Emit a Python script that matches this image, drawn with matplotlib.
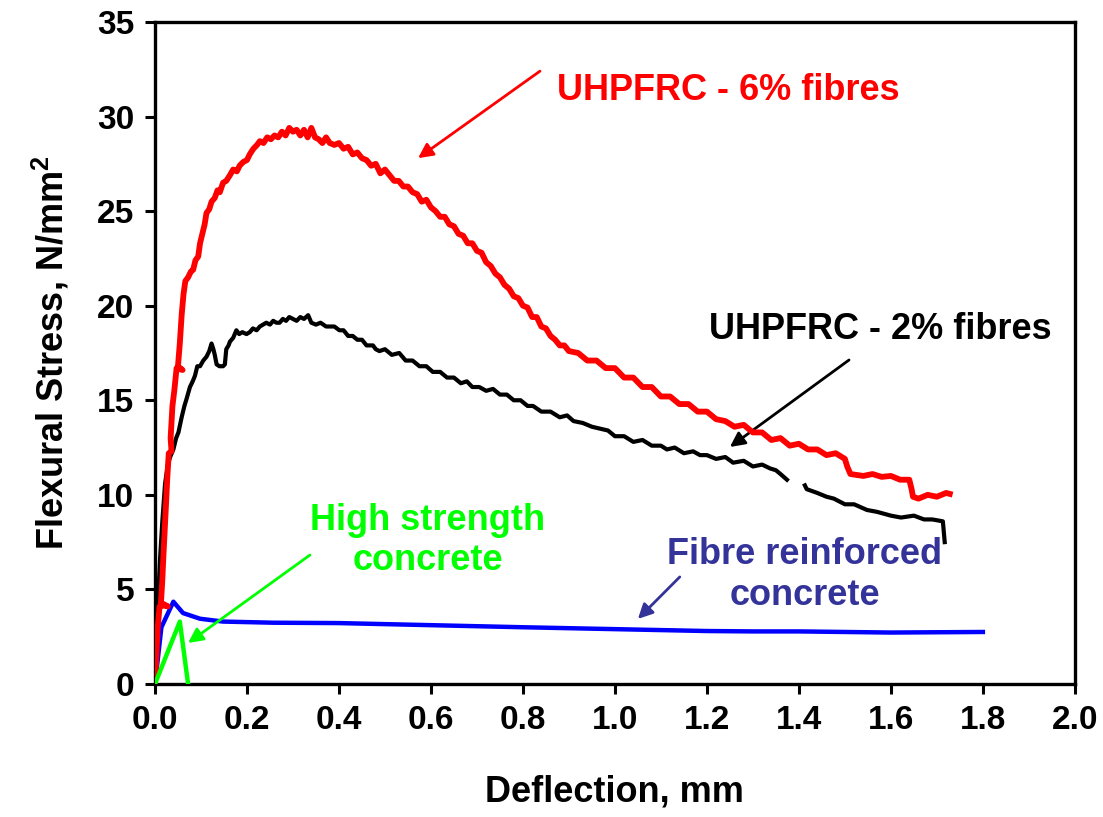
import numpy as np
import matplotlib
matplotlib.use("Agg")
import matplotlib.pyplot as plt

plt.rcParams['font.family'] = ['Liberation Sans', 'DejaVu Sans']
plt.rcParams['font.weight'] = 'bold'
plt.rcParams['mathtext.fontset'] = 'custom'
plt.rcParams['mathtext.bf'] = 'Liberation Sans:bold'
plt.rcParams['mathtext.rm'] = 'Liberation Sans:bold'

# UHPFRC 6% fibres (red)
x_6 = [0, 0.003, 0.006, 0.010, 0.020, 0.028, 0.013, 0.016, 0.018, 0.021, 0.024,
       0.027, 0.030, 0.036, 0.034, 0.038, 0.042, 0.047, 0.060, 0.050, 0.054,
       0.058, 0.062, 0.066, 0.072, 0.078, 0.083, 0.088, 0.094, 0.098, 0.102,
       0.108, 0.112, 0.118, 0.123, 0.130, 0.136, 0.141, 0.148, 0.155, 0.163,
       0.170, 0.178, 0.184, 0.192, 0.200, 0.206, 0.214, 0.222, 0.228, 0.236,
       0.244, 0.252, 0.260, 0.268, 0.276, 0.284, 0.292, 0.300, 0.308, 0.316,
       0.324, 0.332, 0.340, 0.348, 0.356, 0.364, 0.372, 0.380, 0.390, 0.400,
       0.410, 0.420, 0.430, 0.440, 0.450, 0.460, 0.470, 0.480, 0.490, 0.500,
       0.510, 0.520, 0.530, 0.540, 0.550, 0.560, 0.570, 0.580, 0.590, 0.600,
       0.610, 0.620, 0.630, 0.640, 0.650, 0.660, 0.670, 0.680, 0.690, 0.700,
       0.710, 0.720, 0.730, 0.740, 0.750, 0.760, 0.770, 0.780, 0.790, 0.800,
       0.810, 0.820, 0.830, 0.840, 0.850, 0.860, 0.870, 0.880, 0.890, 0.900,
       0.920, 0.940, 0.960, 0.980, 1.000, 1.020, 1.040, 1.060, 1.080, 1.100,
       1.120, 1.140, 1.160, 1.180, 1.200, 1.220, 1.240, 1.260, 1.280, 1.300,
       1.320, 1.340, 1.360, 1.380, 1.400, 1.420, 1.440, 1.460, 1.480, 1.500,
       1.505, 1.512, 1.540, 1.560, 1.580, 1.600, 1.620, 1.640, 1.645, 1.648,
       1.660, 1.680, 1.700, 1.720, 1.728]
y_6 = [0, 1.5, 3.0, 4.1, 4.15, 4.1, 4.3, 5.5, 6.6, 8.0, 9.5,
       11.0, 12.2, 12.3, 13.0, 14.7, 15.5, 16.7, 16.6, 16.8, 18.0,
       19.5, 20.6, 21.3, 21.5, 21.8, 21.9, 22.4, 22.6, 23.3, 23.7,
       24.3, 24.9, 25.1, 25.5, 25.7, 26.1, 26.0, 26.5, 26.6, 26.9,
       27.2, 27.1, 27.4, 27.6, 27.7, 28.0, 28.3, 28.5, 28.7, 28.6,
       28.9, 28.8, 29.0, 28.9, 29.2, 29.0, 29.4, 29.2, 29.3, 29.0,
       29.3, 28.9, 29.4, 28.9, 28.8, 28.6, 28.9, 28.6, 28.5, 28.6,
       28.3, 28.4, 28.0, 28.1, 27.8, 27.7, 27.4, 27.5, 27.0, 27.2,
       26.9, 26.6, 26.6, 26.3, 26.3, 26.0, 25.9, 25.5, 25.6, 25.2,
       25.0, 24.7, 24.7, 24.3, 24.2, 23.8, 23.7, 23.3, 23.3, 22.9,
       22.8, 22.3, 22.1, 21.7, 21.5, 21.1, 20.9, 20.5, 20.4, 20.0,
       19.9, 19.4, 19.4, 18.9, 18.8, 18.4, 18.2, 17.9, 17.9, 17.6,
       17.5, 17.1, 17.1, 16.7, 16.7, 16.2, 16.2, 15.7, 15.7, 15.2,
       15.2, 14.8, 14.8, 14.4, 14.4, 14.0, 13.9, 13.6, 13.7, 13.3,
       13.3, 12.9, 13.0, 12.6, 12.7, 12.4, 12.4, 12.1, 12.2, 11.9,
       11.5, 11.1, 11.0, 11.1, 10.95, 11.0, 10.8, 10.8, 10.3, 9.9,
       9.8, 10.0, 9.9, 10.1, 10.05]

# UHPFRC 2% fibres (black), gap near 1.39 mm
x_2 = [0, 0.004, 0.008, 0.011, 0.016, 0.022, 0.028, 0.033, 0.040, 0.046,
       0.051, 0.058, 0.064, 0.069, 0.076, 0.082, 0.087, 0.092, 0.098, 0.105,
       0.112, 0.118, 0.123, 0.127, 0.130, 0.134, 0.140, 0.148, 0.152, 0.155,
       0.160, 0.163, 0.170, 0.177, 0.183, 0.190, 0.199, 0.206, 0.213, 0.221,
       0.228, 0.235, 0.242, 0.250, 0.257, 0.264, 0.271, 0.278, 0.285, 0.292,
       0.300, 0.308, 0.316, 0.324, 0.333, 0.340, 0.350, 0.360, 0.372, 0.380,
       0.390, 0.401, 0.410, 0.420, 0.430, 0.440, 0.450, 0.460, 0.474, 0.480,
       0.488, 0.500, 0.515, 0.531, 0.545, 0.560, 0.575, 0.590, 0.604, 0.620,
       0.635, 0.650, 0.665, 0.678, 0.690, 0.705, 0.720, 0.735, 0.750, 0.765,
       0.780, 0.795, 0.810, 0.822, 0.840, 0.860, 0.880, 0.896, 0.910, 0.930,
       0.950, 0.967, 0.985, 1.000, 1.020, 1.040, 1.060, 1.080, 1.100, 1.113,
       1.130, 1.150, 1.170, 1.185, 1.200, 1.220, 1.240, 1.257, 1.280, 1.300,
       1.320, 1.337, 1.350, 1.360, 1.374, np.nan, 1.413, 1.417, 1.440, 1.460,
       1.476, 1.500, 1.520, 1.548, 1.570, 1.600, 1.622, 1.650, 1.672, 1.690,
       1.713, 1.717]
y_2 = [0, 2.9, 5.0, 6.6, 8.6, 10.6, 11.6, 12.0, 12.4, 13.0,
       13.3, 14.1, 14.7, 15.1, 15.7, 16.0, 16.3, 16.8, 16.8, 17.1,
       17.3, 17.6, 18.0, 17.7, 17.4, 16.9, 16.8, 16.8, 16.9, 17.7,
       17.9, 18.1, 18.3, 18.7, 18.5, 18.6, 18.5, 18.6, 18.8, 18.7,
       18.9, 19.0, 19.1, 19.0, 19.2, 19.1, 19.1, 19.3, 19.2, 19.4,
       19.3, 19.2, 19.4, 19.3, 19.5, 19.1, 19.0, 19.1, 18.9, 18.9,
       18.9, 18.7, 18.7, 18.4, 18.4, 18.2, 18.2, 17.9, 17.9, 17.7,
       17.6, 17.7, 17.4, 17.5, 17.1, 17.1, 16.8, 16.8, 16.5, 16.5,
       16.2, 16.2, 15.9, 16.0, 15.7, 15.7, 15.5, 15.6, 15.3, 15.3,
       15.0, 15.0, 14.7, 14.7, 14.4, 14.4, 14.1, 14.2, 13.9, 13.8,
       13.6, 13.5, 13.4, 13.1, 13.1, 12.8, 12.9, 12.6, 12.6, 12.4,
       12.5, 12.2, 12.3, 12.1, 12.1, 11.9, 12.0, 11.7, 11.8, 11.5,
       11.6, 11.4, 11.3, 11.1, 10.8, np.nan, 10.5, 10.3, 10.1, 9.9,
       9.8, 9.5, 9.5, 9.2, 9.1, 8.9, 8.8, 8.9, 8.7, 8.7,
       8.6, 7.5]

# Fibre reinforced concrete (blue)
x_frc = [0, 0.014, 0.040, 0.061, 0.098, 0.148, 0.257, 0.400, 0.618, 0.800,
         1.000, 1.200, 1.300, 1.400, 1.600, 1.800]
y_frc = [0, 3.0, 4.35, 3.75, 3.45, 3.3, 3.24, 3.22, 3.1, 3.0,
         2.9, 2.8, 2.78, 2.78, 2.72, 2.75]

# High strength concrete (green)
x_hsc = [0, 0.054, 0.072]
y_hsc = [0, 3.3, 0]

x_ticks = [0.0, 0.2, 0.4, 0.6, 0.8, 1.0, 1.2, 1.4, 1.6, 1.8, 2.0]
y_ticks = [0, 5, 10, 15, 20, 25, 30, 35]

RED = '#FF0000'
GREEN = '#00FF00'
BLUE = '#0000FF'
NAVY = '#333399'

fig = plt.figure(figsize=(11.03, 8.17), dpi=100)
ax = fig.add_axes([0.1405, 0.1628, 0.834, 0.8103])

ax.plot(x_frc, y_frc, color=BLUE, lw=3.2, zorder=3)
ax.plot(x_2, y_2, color='black', lw=3.0, zorder=4)
ax.plot(x_6, y_6, color=RED, lw=4.2, zorder=5)
ax.plot(x_hsc, y_hsc, color=GREEN, lw=3.2, zorder=6)

ax.set_xlim(0, 2.0)
ax.set_ylim(0, 35)
ax.set_xticks(x_ticks)
ax.set_xticklabels([f'{t:.1f}' for t in x_ticks])
ax.set_yticks(y_ticks)
ax.tick_params(axis='both', direction='out', length=7, width=2.2,
               labelsize=24, pad=8)
for lab in ax.get_xticklabels() + ax.get_yticklabels():
    lab.set_fontweight('bold')
for s in ax.spines.values():
    s.set_linewidth(2.4)

ax.set_xlabel('Deflection, mm', fontsize=26, fontweight='bold', labelpad=28)
ax.set_ylabel(r'Flexural Stress, N/mm$^{\mathbf{2}}$', fontsize=26,
              fontweight='bold', labelpad=18)

arrow = dict(arrowstyle='-|>', lw=2.0, mutation_scale=22, shrinkA=0, shrinkB=0)

ax.annotate('', xy=(0.572, 27.8), xytext=(0.837, 32.4),
            arrowprops=dict(arrow, color=RED))
ax.text(1.246, 31.4, 'UHPFRC - 6% fibres', color=RED, fontsize=26,
        fontweight='bold', ha='center', va='center')

ax.annotate('', xy=(1.25, 12.53), xytext=(1.509, 17.13),
            arrowprops=dict(arrow, color='black'))
ax.text(1.576, 18.72, 'UHPFRC - 2% fibres', color='black', fontsize=26,
        fontweight='bold', ha='center', va='center')

ax.annotate('', xy=(0.072, 2.17), xytext=(0.337, 6.82),
            arrowprops=dict(arrow, color=GREEN))
ax.text(0.593, 7.6, 'High strength\nconcrete', color=GREEN, fontsize=26,
        fontweight='bold', ha='center', va='center', linespacing=1.2)

ax.annotate('', xy=(1.05, 3.44), xytext=(1.141, 5.66),
            arrowprops=dict(arrow, color=NAVY))
ax.text(1.413, 5.76, 'Fibre reinforced\nconcrete', color=NAVY, fontsize=26,
        fontweight='bold', ha='center', va='center', linespacing=1.2)

fig.savefig('out.png', dpi=100)
